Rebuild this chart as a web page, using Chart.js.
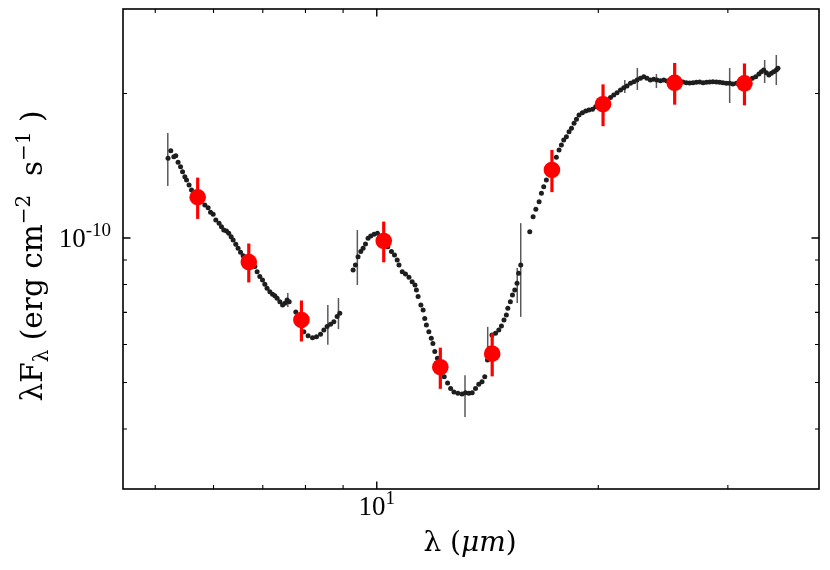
<!DOCTYPE html>
<html>
<head>
<meta charset="utf-8">
<title>SED</title>
<script src="https://cdn.jsdelivr.net/npm/chart.js@4.4.1/dist/chart.umd.min.js"></script>
<style>
    html, body { margin: 0; padding: 0; background: #ffffff; }
    #sed { display: block; }
</style>
</head>
<body>
<canvas id="sed" width="830" height="570"></canvas>
<script>
// flux values below are in units of 1e-10 erg cm^-2 s^-1
const FLUX_UNIT = 1e-10;

// IRS spectrum, short-wavelength piece (um)
const specShortWave = [5.204, 5.249, 5.299, 5.332, 5.370, 5.412, 5.446, 5.485, 5.514, 5.558,
    5.601, 5.641, 5.699, 5.761, 5.839, 5.899, 5.944, 5.993, 6.043, 6.105,
    6.151, 6.196, 6.248, 6.293, 6.340, 6.380, 6.433, 6.479, 6.529, 6.583,
    6.638, 6.737, 6.828, 6.877, 6.935, 6.994, 7.045, 7.094, 7.156, 7.217,
    7.269, 7.321, 7.384, 7.447, 7.501, 7.554, 7.603, 7.762, 7.860, 7.909,
    7.959, 8.066, 8.179, 8.281, 8.386, 8.474, 8.560, 8.653, 8.743, 8.833, 8.907];
const specShortFlux = [1.466, 1.519, 1.477, 1.484, 1.438, 1.408, 1.375, 1.342, 1.321, 1.290,
    1.259, 1.239, 1.219, 1.190, 1.172, 1.156, 1.131, 1.121, 1.090, 1.073,
    1.055, 1.039, 1.034, 1.023, 1.006, 0.990, 0.970, 0.952, 0.934, 0.918,
    0.904, 0.882, 0.872, 0.851, 0.831, 0.818, 0.801, 0.786, 0.773, 0.764,
    0.758, 0.749, 0.737, 0.725, 0.731, 0.743, 0.737, 0.701, 0.668, 0.656,
    0.638, 0.626, 0.620, 0.623, 0.630, 0.643, 0.654, 0.661, 0.669, 0.686, 0.697];

// silicate feature piece
const specMidWave = [9.286, 9.355, 9.431, 9.512, 9.581, 9.653, 9.731, 9.813, 9.916, 10.02,
    10.12, 10.25, 10.35, 10.47, 10.57, 10.66, 10.72, 10.83, 10.94, 11.06,
    11.17, 11.27, 11.32, 11.38, 11.48, 11.56, 11.62, 11.68, 11.77, 11.86,
    11.92, 11.99, 12.09, 12.22, 12.35, 12.48, 12.60, 12.73, 12.89, 13.06,
    13.20, 13.34, 13.48, 13.62, 13.76, 13.90, 14.02, 14.14, 14.24, 14.34,
    14.50, 14.65, 14.77, 14.89, 15.00, 15.07, 15.19, 15.29, 15.40, 15.51, 15.59, 15.69];
const specMidFlux = [0.858, 0.879, 0.914, 0.937, 0.952, 0.972, 0.999, 1.010, 1.018, 1.023,
    1.006, 0.982, 0.959, 0.937, 0.922, 0.900, 0.879, 0.851, 0.841, 0.828,
    0.811, 0.798, 0.779, 0.755, 0.725, 0.708, 0.680, 0.659, 0.638, 0.618,
    0.603, 0.580, 0.562, 0.535, 0.514, 0.499, 0.486, 0.478, 0.475, 0.473,
    0.476, 0.475, 0.476, 0.486, 0.496, 0.502, 0.514, 0.557, 0.589, 0.628,
    0.633, 0.643, 0.656, 0.675, 0.691, 0.714, 0.737, 0.761, 0.779, 0.805, 0.844, 0.879];

// long-wavelength piece
const specLongWave = [16.14, 16.31, 16.45, 16.62, 16.74, 16.86, 17.00, 17.14, 17.33, 17.54,
    17.69, 17.82, 17.95, 18.10, 18.25, 18.39, 18.54, 18.68, 18.83, 19.03,
    19.23, 19.42, 19.64, 19.84, 20.04, 20.30, 20.55, 20.78, 20.99, 21.21,
    21.44, 21.66, 21.88, 22.12, 22.35, 22.58, 22.82, 23.06, 23.29, 23.54,
    23.79, 24.03, 24.29, 24.55, 24.80, 25.07, 25.41, 25.80, 26.07, 26.34,
    26.62, 26.90, 27.18, 27.47, 27.76, 28.05, 28.34, 28.63, 28.94, 29.24,
    29.54, 29.86, 30.17, 30.48, 30.81, 31.13, 31.62, 32.05, 32.39, 32.73,
    33.06, 33.32, 33.56, 33.84, 34.11, 34.37, 34.62, 34.91, 35.09];
const specLongFlux = [1.031, 1.108, 1.148, 1.190, 1.239, 1.279, 1.321, 1.364, 1.420, 1.473,
    1.526, 1.562, 1.600, 1.626, 1.665, 1.693, 1.734, 1.768, 1.804, 1.824,
    1.839, 1.848, 1.854, 1.878, 1.893, 1.914, 1.939, 1.963, 1.986, 2.008,
    2.034, 2.057, 2.073, 2.100, 2.117, 2.134, 2.152, 2.168, 2.152, 2.134,
    2.141, 2.134, 2.127, 2.134, 2.124, 2.117, 2.117, 2.111, 2.113, 2.107,
    2.103, 2.107, 2.111, 2.113, 2.107, 2.111, 2.113, 2.117, 2.113, 2.111,
    2.107, 2.100, 2.100, 2.093, 2.100, 2.100, 2.107, 2.127, 2.152, 2.168,
    2.196, 2.221, 2.239, 2.210, 2.186, 2.204, 2.221, 2.239, 2.257];

// the few spectrum error bars that stand out
const specErrWave = [5.20, 7.57, 8.58, 8.87, 9.41, 13.18, 14.15, 15.52, 15.69, 21.73, 22.60, 23.99, 30.17, 33.66, 34.91];
const specErrLow = [1.284, 0.718, 0.599, 0.646, 0.798, 0.424, 0.576, 0.732, 0.685, 2.005, 2.034, 2.054, 1.911, 2.103, 2.083];
const specErrHigh = [1.655, 0.768, 0.725, 0.750, 1.039, 0.518, 0.653, 0.866, 1.074, 2.134, 2.261, 2.196, 2.261, 2.349, 2.406];

// photometry
const photWave = [5.71, 6.70, 7.90, 10.22, 12.2, 14.35, 17.3, 20.3, 25.4, 31.6];
const photFlux = [1.216, 0.891, 0.675, 0.986, 0.538, 0.574, 1.386, 1.90, 2.106, 2.10];
const photErr = [0.12, 0.083, 0.066, 0.096, 0.053, 0.059, 0.14, 0.19, 0.21, 0.21];

// axes
const xRange = [4.52, 39.9];
const yRange = [3e-11, 3e-10];
const xMajorTicks = [10];
const xMinorTicks = [5, 6, 7, 8, 9, 20, 30];
const yMajorTicks = [1e-10];
const yMinorTicks = [4e-11, 5e-11, 6e-11, 7e-11, 8e-11, 9e-11, 2e-10];

const specWave = specShortWave.concat(specMidWave, specLongWave);
const specFlux = specShortFlux.concat(specMidFlux, specLongFlux);

/**
 * Vertical error bars, drawn just before the points of their dataset
 */
const errorBars = {
    id: "errorBars",
    beforeDatasetDraw(chart, args) {
        const { ctx, chartArea, scales: { x, y } } = chart;
        ctx.save();
        ctx.beginPath();
        ctx.rect(chartArea.left, chartArea.top, chartArea.right - chartArea.left, chartArea.bottom - chartArea.top);
        ctx.clip();
        ctx.lineCap = "butt";
        if (args.index === 0) {
            ctx.strokeStyle = "#ff0000";
            ctx.lineWidth = 3.2;
            photWave.forEach((w, i) => {
                const px = x.getPixelForValue(w);
                ctx.beginPath();
                ctx.moveTo(px, y.getPixelForValue((photFlux[i] - photErr[i]) * FLUX_UNIT));
                ctx.lineTo(px, y.getPixelForValue((photFlux[i] + photErr[i]) * FLUX_UNIT));
                ctx.stroke();
            });
        } else {
            ctx.strokeStyle = "rgba(60, 60, 60, 0.85)";
            ctx.lineWidth = 1.5;
            specErrWave.forEach((w, i) => {
                const px = x.getPixelForValue(w);
                ctx.beginPath();
                ctx.moveTo(px, y.getPixelForValue(specErrLow[i] * FLUX_UNIT));
                ctx.lineTo(px, y.getPixelForValue(specErrHigh[i] * FLUX_UNIT));
                ctx.stroke();
            });
        }
        ctx.restore();
    },
};

// draws text pieces one after the other; each piece: [text, font, dy]
function drawPieces(ctx, pieces, startX, baseY) {
    let cx = startX;
    pieces.forEach(([t, font, dy]) => {
        ctx.font = font;
        ctx.fillText(t, cx, baseY + dy);
        cx += ctx.measureText(t).width;
    });
}

function piecesWidth(ctx, pieces) {
    return pieces.reduce((s, [t, font]) => {
        ctx.font = font;
        return s + ctx.measureText(t).width;
    }, 0);
}

/**
 * Frame, inward ticks on all four sides, tick labels and axis titles
 */
const frameAndLabels = {
    id: "frameAndLabels",
    afterDraw(chart) {
        const { ctx, chartArea: a, scales: { x, y } } = chart;
        ctx.save();
        ctx.strokeStyle = "#000";
        ctx.fillStyle = "#000";

        const tick = (vals, len, width) => {
            ctx.lineWidth = width;
            vals.x.forEach((v) => {
                const px = x.getPixelForValue(v);
                ctx.beginPath();
                ctx.moveTo(px, a.bottom); ctx.lineTo(px, a.bottom - len);
                ctx.moveTo(px, a.top); ctx.lineTo(px, a.top + len);
                ctx.stroke();
            });
            vals.y.forEach((v) => {
                const py = y.getPixelForValue(v);
                ctx.beginPath();
                ctx.moveTo(a.left, py); ctx.lineTo(a.left + len, py);
                ctx.moveTo(a.right, py); ctx.lineTo(a.right - len, py);
                ctx.stroke();
            });
        };
        tick({ x: xMajorTicks, y: yMajorTicks }, 7.5, 1.4);
        tick({ x: xMinorTicks, y: yMinorTicks }, 4, 1.1);

        ctx.lineWidth = 1.6;
        ctx.strokeRect(a.left, a.top, a.right - a.left, a.bottom - a.top);

        // tick labels
        const big = "27px 'Liberation Serif'";
        const sup = "19px 'Liberation Serif'";
        ctx.textBaseline = "alphabetic";
        ctx.textAlign = "left";
        xMajorTicks.forEach((v) => {
            const p = [["10", big, 0], [String(Math.round(Math.log10(v))), sup, -11]];
            const w = piecesWidth(ctx, p);
            drawPieces(ctx, p, x.getPixelForValue(v) - w / 2, a.bottom + 26);
        });
        yMajorTicks.forEach((v) => {
            const p = [["10", big, 0], [String(Math.round(Math.log10(v))), sup, -11]];
            const w = piecesWidth(ctx, p);
            drawPieces(ctx, p, a.left - 12 - w, y.getPixelForValue(v) + 9);
        });

        // x title
        const xt = [["λ (", "28px 'DejaVu Serif'", 0], ["μm", "italic 28px 'DejaVu Serif'", 0], [")", "28px 'DejaVu Serif'", 0]];
        drawPieces(ctx, xt, 470 - piecesWidth(ctx, xt) / 2, 551);

        // y title
        const f = "29.5px 'DejaVu Serif'";
        const s = "20px 'DejaVu Serif'";
        const yt = [["λF", f, 0], ["λ", s, 6], [" (erg cm", f, 0], ["−2", s, -12], ["  s", f, 0], ["−1", s, -12], [" )", f, 0]];
        const yw = piecesWidth(ctx, yt);
        ctx.translate(42, 256);
        ctx.rotate(-Math.PI / 2);
        drawPieces(ctx, yt, -yw / 2, 0);
        ctx.restore();
    },
};

new Chart(document.getElementById("sed"), {
    type: "scatter",
    data: {
        datasets: [
            {
                label: "photometry",
                data: photWave.map((w, i) => ({ x: w, y: photFlux[i] * FLUX_UNIT })),
                pointRadius: 8.3,
                pointBackgroundColor: "#ff0000",
                pointBorderWidth: 0,
            },
            {
                label: "spectrum",
                data: specWave.map((w, i) => ({ x: w, y: specFlux[i] * FLUX_UNIT })),
                pointRadius: 2.5,
                pointBackgroundColor: "#1e1e1e",
                pointBorderWidth: 0,
            },
        ],
    },
    options: {
        responsive: false,
        animation: false,
        layout: { padding: { left: 123, right: 11, top: 9, bottom: 81 } },
        plugins: {
            legend: { display: false },
            tooltip: { enabled: false },
        },
        scales: {
            x: { type: "logarithmic", min: xRange[0], max: xRange[1], display: false },
            y: { type: "logarithmic", min: yRange[0], max: yRange[1], display: false },
        },
    },
    plugins: [errorBars, frameAndLabels],
});
</script>
</body>
</html>
